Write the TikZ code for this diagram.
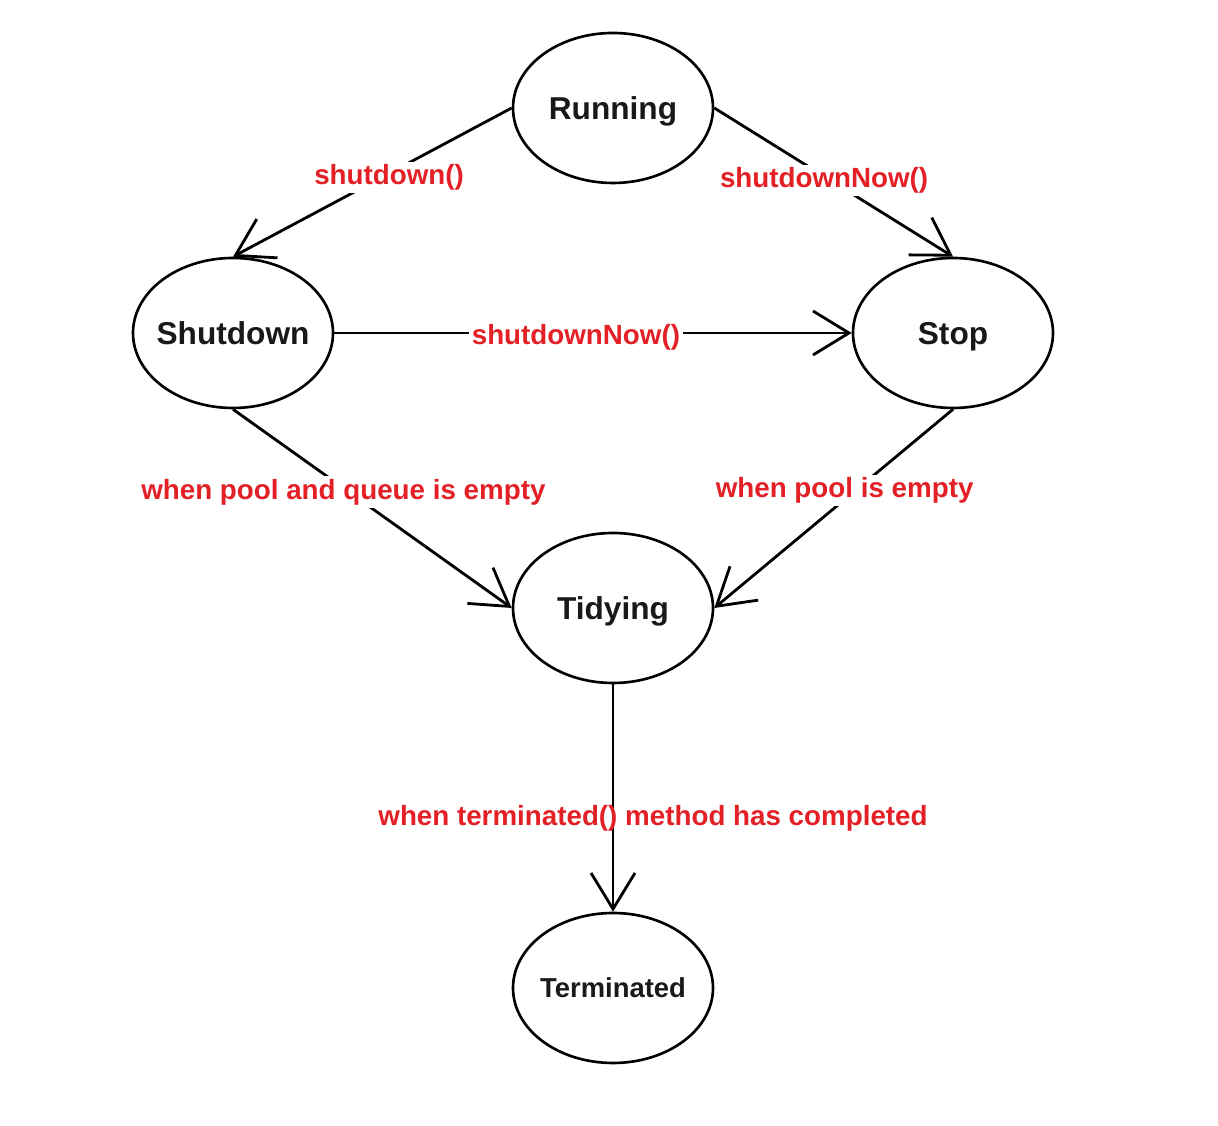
\documentclass[tikz,border=0pt]{standalone}
\usepackage{fontspec}
\setmainfont{Liberation Sans}
\usepackage{tikz}
\usetikzlibrary{arrows.meta}
\usetikzlibrary{shapes.geometric}
\definecolor{lblred}{RGB}{226,32,38}

\tikzset{
	state/.style={draw, ellipse, line width=1.5pt, minimum width=4cm, minimum height=3cm, inner ysep=0pt, inner xsep=-0.3cm, text height=13pt, text depth=0pt, font=\bfseries\fontsize{18}{20}\selectfont, text=black!90},
	trans/.style={line width=1.6pt, -{Straight Barb[length=0.72cm, width=0.88cm, line width=1.6pt]}},
	lbl/.style={text=lblred, font=\bfseries\fontsize{15.8}{18}\selectfont, fill=white, inner sep=1.5pt, yshift=-0.08cm}
}

\begin{document}
\begin{tikzpicture}
	\useasboundingbox (0,0) rectangle (24.36,22.52);
	
	% States
	\node[state] (running) at (12.26,20.36) {Running};
	\node[state] (shutdown) at (4.66,15.86) {Shutdown};
	\node[state] (stop) at (19.06,15.86) {Stop};
	\node[state] (tidying) at (12.26,10.36) {Tidying};
	\node[state, text height=11.2pt, font=\bfseries\fontsize{15.6}{18}\selectfont] (terminated) at (12.26,2.76) {Terminated};
	
	% Transitions
	\draw[trans] (running.west) -- (shutdown.north) node[lbl, pos=0.44] (lshut) {shutdown()};
	\draw[trans] (running.east) -- (stop.north) node[lbl, pos=0.46] (lnowa) {shutdownNow()};
	\draw[trans] (shutdown.east) -- (stop.west) node[lbl, pos=0.467] (lnowb) {shutdownNow()};
	\draw[trans] (shutdown.south) -- (tidying.west) node[lbl, pos=0.396] (lqueue) {when pool and queue is empty};
	\draw[trans] (stop.south) -- (tidying.east) node[lbl, pos=0.454, yshift=0.26cm] (lpool) {when pool is empty};
	
	% last one: text lies over the line
	\draw[trans] (tidying.south) -- (terminated.north) node[lbl, fill=none, pos=0.574, xshift=0.8cm] (ldone) {when terminated() method has completed};
	
\end{tikzpicture}
\end{document}
